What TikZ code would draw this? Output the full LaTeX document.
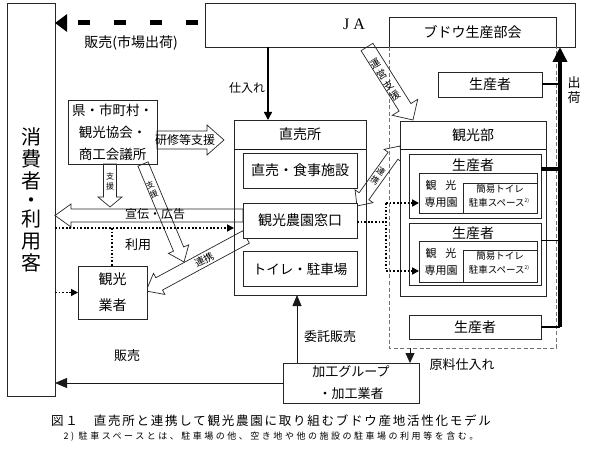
\documentclass[tikz,border=0pt]{standalone}
\usepackage{fontspec}
\setmainfont{Noto Sans CJK JP}
\newfontfamily\jafont{Liberation Serif}
\newfontfamily\capfontA[LetterSpace=14]{Noto Sans CJK JP}
\newfontfamily\capfontB[LetterSpace=28]{Noto Sans CJK JP}
\usetikzlibrary{arrows.meta,calc}

% block arrow: #1 start, #2 tip, #3 half shaft, #4 half head, #5 head length, #6 prefix
\newcommand{\blkarr}[6]{%
  \coordinate (#6h) at ($(#2)!#5!(#1)$);
  \draw[blk] ($(#1)!#3!90:(#2)$) -- ($(#6h)!#3!-90:(#1)$) -- ($(#6h)!#4!-90:(#1)$) -- (#2)
    -- ($(#6h)!#4!90:(#1)$) -- ($(#6h)!#3!90:(#1)$) -- ($(#1)!#3!-90:(#2)$) -- cycle;}
% double block arrow
\newcommand{\dblkarr}[6]{%
  \coordinate (#6h) at ($(#2)!#5!(#1)$);
  \coordinate (#6g) at ($(#1)!#5!(#2)$);
  \draw[blk] (#1) -- ($(#6g)!#4!-90:(#2)$) -- ($(#6g)!#3!-90:(#2)$) -- ($(#6h)!#3!90:(#1)$)
    -- ($(#6h)!#4!90:(#1)$) -- (#2) -- ($(#6h)!#4!-90:(#1)$) -- ($(#6h)!#3!-90:(#1)$)
    -- ($(#6g)!#3!90:(#2)$) -- ($(#6g)!#4!90:(#2)$) -- cycle;}

\begin{document}
\begin{tikzpicture}[x=1pt,y=-1pt,
  box/.style={draw=black!85,line width=0.8pt,fill=white,inner sep=0pt,outer sep=0pt},
  t14/.style={font=\fontsize{14}{16}\selectfont,inner sep=0pt},
  t13/.style={font=\fontsize{13}{15}\selectfont,inner sep=0pt},
  t12/.style={font=\fontsize{12}{14}\selectfont,inner sep=0pt},
  t11/.style={font=\fontsize{11}{13}\selectfont,inner sep=0pt},
  t9/.style={font=\fontsize{9.5}{11}\selectfont,inner sep=0pt},
  blk/.style={draw=black!85,line width=0.7pt,line join=miter},
  dotl/.style={line width=1.7pt,dash pattern=on 1.7pt off 1.9pt},
  stip/.style={-{Triangle[length=7pt 0 0,width=7pt 0 0]}},
  grp/.style={draw=black!55,line width=0.8pt,dash pattern=on 4pt off 2.5pt},
  thinl/.style={line width=0.8pt,draw=black!90},
]
\useasboundingbox (0,0) rectangle (589,449);
\fill[white] (0,0) rectangle (589,449);

% ---- main boxes
\node[box,minimum width=48pt,minimum height=393pt] (cons) at (31,199.5) {};
\node[inner sep=0pt,align=center,font=\fontsize{20}{22}\selectfont] (const) at (31,200)
  {消\\費\\者\\[-3pt]・\\[-3pt]利\\用\\客};

\node[box,minimum width=370pt,minimum height=44pt] (ja) at (390,25) {};
\node[inner sep=0pt,font=\jafont\fontsize{16}{16}\selectfont] (jat) at (354,24) {J\hspace{4pt}A};
\node[box,minimum width=167pt,minimum height=30pt,t14] (bud) at (472.5,32) {ブドウ生産部会};

% dashed group (under JA / ブドウ生産部会)
\coordinate (grpb) at (0,348);
\draw[grp] (bud.south west) -- (bud.south west |- grpb) -- (bud.south east |- grpb) -- (bud.south east);

\node[box,minimum width=89pt,minimum height=64pt,align=center,inner sep=0pt,
  font=\fontsize{13.5}{22}\selectfont] (pref) at (112.5,132) {県・市町村・\\観光協会・\\商工会議所};

\node[box,minimum width=132pt,minimum height=175pt] (choku) at (300,207.5) {};
\draw[thinl] ($(choku.north west)+(0,29)$) -- ($(choku.north east)+(0,29)$);
\node[t14] (chokut) at (300,134.5) {直売所};

% ---- block arrows
\coordinate (kA) at (157,140); \coordinate (kB) at (224,140);
\blkarr{kA}{kB}{9pt}{15pt}{17pt}{ka}
\node[t12] (kat) at (185,140) {研修等支援};

\coordinate (sA) at (110,164); \coordinate (sB) at (110,207);
\blkarr{sA}{sB}{6.5pt}{12pt}{10pt}{sa}
\node[inner sep=0pt,align=center,font=\fontsize{8}{10}\selectfont] (sat) at (110,181) {支\\援};

\coordinate (dA) at (143,164); \coordinate (dB) at (184,262);
\blkarr{dA}{dB}{5.5pt}{11pt}{14pt}{da}
\node[inner sep=0pt,align=center,rotate=22.7,font=\fontsize{8}{10}\selectfont] (dat) at (152,190) {支\\援};

\node[box,minimum width=114pt,minimum height=35pt,t14] (mado) at (300,220.5) {観光農園窓口};
\coordinate (aA) at ($(mado.west)+(0,-5)$);
\coordinate (aB) at (cons.east |- aA);
\blkarr{aA}{aB}{6.5pt}{11.5pt}{16pt}{aa}
\node[t12] (aat) at (155,214) {宣伝・広告};

\coordinate (rA) at (246,237); \coordinate (rB) at (146,291);
\blkarr{rA}{rB}{7pt}{12pt}{15pt}{ra}
\path (rA) -- (rB) node[pos=0.42,sloped,inner sep=0pt,font=\fontsize{10}{11}\selectfont] (rat) {連携};

\coordinate (wA) at (357,206); \coordinate (wB) at (400,146);
\dblkarr{wA}{wB}{6pt}{11pt}{12pt}{wa}
\node[inner sep=0pt,align=center,rotate=-35.4,font=\fontsize{8.5}{10.5}\selectfont] (wat) at (378,176) {連\\携};

\coordinate (uA) at (367,47); \coordinate (uB) at (413,120);
\blkarr{uA}{uB}{7pt}{15pt}{15pt}{ua}
\node[inner sep=0pt,align=center,rotate=32,font=\fontsize{10}{12.5}\selectfont] (uat) at (385,80) {運\\営\\支\\援};

% ---- inner boxes of 直売所
\node[box,minimum width=114pt,minimum height=35pt,t14] (shoku) at (300,170.5) {直売・食事施設};
\node[box,minimum width=114pt,minimum height=35pt,font=\fontsize{13.5}{15}\selectfont] (toilet) at (300,269) {トイレ・駐車場};
\node[box,minimum width=114pt,minimum height=35pt,t14] (mado2) at (300,220.5) {観光農園窓口};

% ---- 観光業者
\node[box,minimum width=69pt,minimum height=53pt,align=center,inner sep=0pt,
  font=\fontsize{14}{26}\selectfont] (gyo) at (112.5,292.5) {観光\\業者};

% ---- 観光部
\node[box,minimum width=146pt,minimum height=175pt] (bu) at (473,208.5) {};
\draw[thinl] ($(bu.north west)+(0,28)$) -- ($(bu.north east)+(0,28)$);
\node[t14] (but) at (473,135) {観光部};

\node[box,minimum width=132pt,minimum height=64pt] (p1) at (475,186) {};
\node[t14] (p1t) at (473,165) {生産者};
\node[box,minimum width=118pt,minimum height=40pt] (en1) at (478,193) {};
\node[box,minimum width=74pt,minimum height=30pt] (ty1) at (500,198) {};
\node[t11] (en1a) at (441,185) {観\hspace{0.8em}光};
\node[t11] (en1b) at (441,202) {専用園};
\node[t9] (ty1a) at (500,189) {簡易トイレ};
\node[t9] (ty1b) at (499,202.5) {駐車スペース\raisebox{4pt}{\fontsize{5}{5}\selectfont 2)}};

\node[box,minimum width=132pt,minimum height=62pt] (p2) at (475,254) {};
\node[t14] (p2t) at (473,233) {生産者};
\node[box,minimum width=118pt,minimum height=41pt] (en2) at (478,261.5) {};
\node[box,minimum width=74pt,minimum height=32pt] (ty2) at (500,266) {};
\node[t11] (en2a) at (441,253) {観\hspace{0.8em}光};
\node[t11] (en2b) at (441,270) {専用園};
\node[t9] (ty2a) at (500,256) {簡易トイレ};
\node[t9] (ty2b) at (499,269.5) {駐車スペース\raisebox{4pt}{\fontsize{5}{5}\selectfont 2)}};

\node[box,minimum width=104pt,minimum height=25pt,t14] (ptop) at (490,84.5) {生産者};
\node[box,minimum width=132pt,minimum height=24pt,t14] (pbot) at (475,327) {生産者};

\node[box,minimum width=136pt,minimum height=40pt,align=center,inner sep=0pt,
  font=\fontsize{13}{22}\selectfont] (kako) at (351,383) {加工グループ\\・加工業者};

% ---- connectors
\draw[line width=5pt,dash pattern=on 12pt off 24pt,dash phase=29pt,
  -{Triangle[length=12pt 0 0,width=17pt 0 0]}] ($(ja.west)+(0,-2)$) -- ($(cons.east |- ja.west)+(0,-2)$);
\node[t14] (hant) at (131,43) {販売(市場出荷)};

\coordinate (shx) at (268,0);
\draw[line width=1.5pt,-{Triangle[length=8pt 0 0,width=8pt 0 0]}] (ja.south -| shx) -- (choku.north -| shx);
\node[t12] (shit) at (247,88) {仕入れ};

\coordinate (uy) at (0,228);
\draw[dotl,stip] (cons.east |- uy) -- (choku.west |- uy);
\coordinate (uj) at (112,228);
\draw[dotl] (uj) -- (uj |- gyo.north);
\node[t13] (riyo) at (138,245) {利用};
\draw[dotl,stip] (cons.east |- gyo.west) -- (gyo.west);

\coordinate (mr) at ($(mado.east)+(0,1.5)$);
\coordinate (dx) at (386,0);
\coordinate (e1) at ($(en1.north west)+(0,30)$);
\coordinate (e2) at ($(en2.north west)+(0,30)$);
\draw[dotl] (mr) -- (dx |- mr);
\draw[dotl] (dx |- e1) -- (dx |- e2);
\draw[dotl,stip] (dx |- e1) -- (e1);
\draw[dotl,stip] (dx |- e2) -- (e2);

\coordinate (shk) at (560,0);
\draw[line width=3.5pt,-{Triangle[length=15pt 0 0,width=14pt 0 0]}] (shk |- pbot.east) -- (shk |- ja.south);
\draw[line width=2pt] (ptop.east) -- (shk |- ptop.east);
\coordinate (p1r) at ($(p1.north east)+(0,15)$);
\coordinate (p2r) at ($(p2.north east)+(0,18)$);
\draw[line width=3.5pt] (p1r) -- (shk |- p1r);
\draw[line width=1pt] (p2r) -- (shk |- p2r);
\draw[line width=2pt] (pbot.east) -- (shk |- pbot.east);
\node[t13,align=center,font=\fontsize{13}{15}\selectfont] (shukt) at (574,90) {出\\荷};

\coordinate (itx) at (297,0);
\draw[thinl,-{Triangle[length=11pt 0 0,width=9pt 0 0]}] (kako.north -| itx) -- (choku.south -| itx);
\node[t13] (itakut) at (330,337) {委託販売};

\draw[thinl,-{Triangle[length=12pt 0 0,width=10pt 0 0]}] (kako.west) -- (kako.west -| cons.east);
\node[t13] (han2t) at (127,356) {販売};

\coordinate (gx) at (410,0);
\draw[thinl,-{Triangle[length=10pt 0 0,width=9pt 0 0]}] (gx |- grpb) -- (kako.north -| gx);
\node[t13] (genryo) at (462,365) {原料仕入れ};

% ---- caption
\node[inner sep=0pt,font=\capfontA\fontsize{12.5}{14}\selectfont] (cap1) at (271,421)
  {図１　直売所と連携して観光農園に取り組むブドウ産地活性化モデル};
\node[inner sep=0pt,font=\capfontB\fontsize{9}{10}\selectfont] (cap2) at (271,437)
  {2) 駐車スペースとは、駐車場の他、空き地や他の施設の駐車場の利用等を含む。};
\end{tikzpicture}
\end{document}
